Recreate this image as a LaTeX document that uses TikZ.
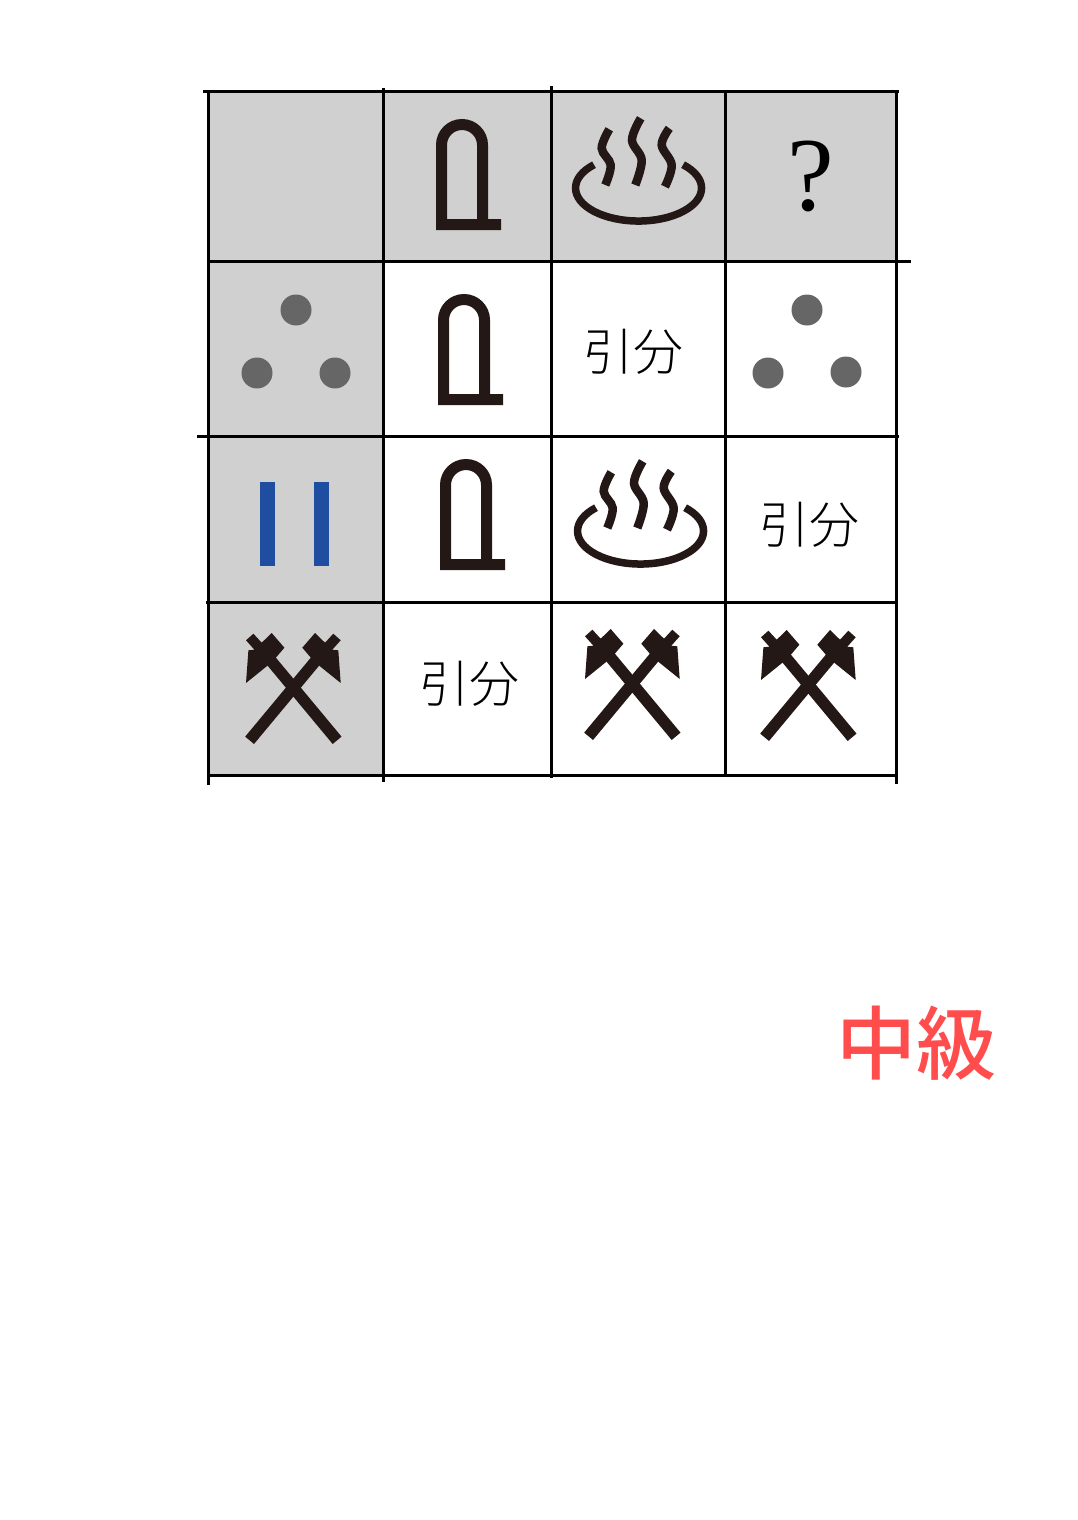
\documentclass[tikz,border=0pt]{standalone}
\usepackage{fontspec}
\newfontfamily\cjk{Noto Sans CJK JP Light}
\newfontfamily\cjkmid{Noto Sans CJK JP Medium}
\newfontfamily\queryfont{Liberation Serif}
\usetikzlibrary{calc,positioning}
\definecolor{cellgray}{HTML}{D0D0D0}
\definecolor{inkbrown}{HTML}{231815}
\definecolor{dotgray}{HTML}{666666}
\definecolor{barblue}{HTML}{1F4EA1}
\definecolor{levelred}{HTML}{FF4D4D}
\tikzstyle{shade} = [fill=cellgray,anchor=north west,inner sep=0pt]
\tikzstyle{rule} = [draw=black,line width=3pt]
\tikzstyle{word} = [font=\cjk\fontsize{50}{50}\selectfont,inner sep=0pt]
\tikzstyle{stone} = [circle,fill=dotgray,minimum size=31pt,inner sep=0pt]
\tikzstyle{bar} = [fill=barblue,anchor=north west,inner sep=0pt,minimum width=15pt,minimum height=84pt]
\tikzstyle{steam} = [draw=inkbrown,line width=8.5pt,smooth,tension=.6]
\tikzset{
    gatemark/.pic={
        \draw[inkbrown,line width=11pt] (65,105.5) -- (5.5,105.5) -- (5.5,26) arc (180:360:20.5) -- (46.5,105.5);
    },
    bathmark/.pic={
        \draw[inkbrown,line width=7.5pt] (-44.5,-23.3) arc (225:-45:63 and 33);
        % steam
        \draw[steam] plot coordinates {(2.2,-69.7) (-6.5,-48) (3.2,-28) (-3.2,-3)};
        \draw[steam] plot coordinates {(-29.2,-58.7) (-36.8,-39.7) (-27.8,-23) (-33.2,-3)};
        \draw[steam] plot coordinates {(30.8,-59.7) (23.2,-43) (33.2,-23) (26.5,-1.3)};
    },
    halfhammer/.pic={
        \fill[inkbrown] (56.3,14.7) -- (69,0) -- (79,9.7) -- (87.3,0.7) -- (94.7,7.3) -- (86.3,16.7) -- (92.3,17.3)
            -- (94.7,50) -- (74,33.3) -- (65.7,25.7) -- cycle;
        \draw[inkbrown,line width=11.5pt] (3.6,107.3) -- (72,25);
    },
    hammermark/.pic={
        \pic at (0,0) {halfhammer};
        \pic[xscale=-1] at (94.7,0) {halfhammer};
    }
}
\begin{document}
\begin{tikzpicture}[x=1pt,y=-1pt]
\useasboundingbox (0,0) rectangle (1077,1520);
%%% Gray cells
\node[shade,minimum width=688pt,minimum height=170pt] at (208,91) (headrow) {};
\node[shade,minimum width=175pt,minimum height=514pt] at (208,261) (headcol) {};
%%% Grid
\foreach \xa/\ya/\xb/\yb in {203/91/899/91,208/261/911/261,197/436/899/436,206/602/898/602,208/775/897/775,
    208/91/208/785,383/88/383/782,551/86/551/778,725/91/725/775,896/91/896/784} {
    \draw[rule] (\xa,\ya) -- (\xb,\yb);
}
%%% Gates
\foreach \x/\y in {436/119,438/294,440/459} {
    \pic at (\x,\y) {gatemark};
}
%%% Baths
\foreach \x/\y in {638.5/188,640.5/531} {
    \pic at (\x,\y) {bathmark};
}
%%% Hammers
\foreach \x/\y in {246/633,585/629,761/630} {
    \pic at (\x,\y) {hammermark};
}
%%% Stones
\foreach \x/\y [count=\i] in {296/310,257/373,335/373,807/310,768/373,846/372} {
    \node[stone] at (\x,\y) (stone\i) {};
}
%%% Bars
\node[bar] at (260,482) (barleft) {};
\node[bar] at (314,482) (barright) {};
%%% Words
\node[word] at (633,352) (wordb) {引分};
\node[word] at (809,525) (wordc) {引分};
\node[word] at (469,684) (wordd) {引分};
\node[font=\queryfont\fontsize{105}{105}\selectfont,inner sep=0pt] at (811,176) (query) {?};
\node[font=\cjkmid\fontsize{80}{80}\selectfont,text=levelred,inner sep=0pt] at (916,1043) (level) {中級};
\end{tikzpicture}
\end{document}
